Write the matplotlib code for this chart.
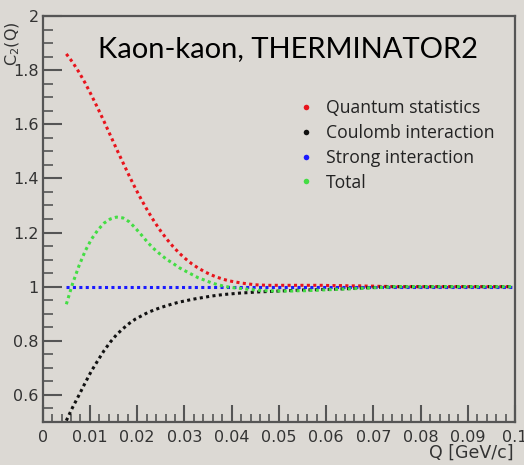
import matplotlib
matplotlib.use("Agg")
import matplotlib.pyplot as plt
from matplotlib.ticker import MultipleLocator, FuncFormatter
from matplotlib.lines import Line2D

# Q grid (GeV/c), same for every curve
q = [0.0050, 0.0063, 0.0077, 0.0090, 0.0103, 0.0117, 0.0130, 0.0143, 0.0156, 0.0170,
     0.0183, 0.0196, 0.0210, 0.0223, 0.0236, 0.0250, 0.0263, 0.0276, 0.0289, 0.0303,
     0.0316, 0.0329, 0.0343, 0.0356, 0.0369, 0.0383, 0.0396, 0.0409, 0.0422, 0.0436,
     0.0449, 0.0462, 0.0476, 0.0489, 0.0502, 0.0516, 0.0529, 0.0542, 0.0555, 0.0569,
     0.0582, 0.0595, 0.0609, 0.0622, 0.0635, 0.0649, 0.0662, 0.0675, 0.0688, 0.0702,
     0.0715, 0.0728, 0.0742, 0.0755, 0.0768, 0.0782, 0.0795, 0.0808, 0.0821, 0.0835,
     0.0848, 0.0861, 0.0875, 0.0888, 0.0901, 0.0915, 0.0928, 0.0941, 0.0954, 0.0968,
     0.0981, 0.0994]

quantum = [1.860, 1.830, 1.792, 1.752, 1.708, 1.658, 1.610, 1.560, 1.510, 1.458,
           1.410, 1.364, 1.318, 1.278, 1.241, 1.205, 1.175, 1.148, 1.124, 1.102,
           1.084, 1.069, 1.055, 1.044, 1.035, 1.027, 1.021, 1.017, 1.013, 1.010,
           1.007, 1.006, 1.005, 1.005, 1.005, 1.005, 1.005, 1.005, 1.005, 1.005,
           1.005, 1.005, 1.004, 1.004, 1.004, 1.003, 1.003, 1.003, 1.002, 1.002,
           1.001, 1.001] + [1.000] * 20

coulomb = [0.505, 0.553, 0.600, 0.645, 0.688, 0.728, 0.764, 0.795, 0.822, 0.845,
           0.864, 0.880, 0.893, 0.905, 0.914, 0.923, 0.930, 0.937, 0.943, 0.948,
           0.953, 0.957, 0.961, 0.965, 0.968, 0.971, 0.973, 0.975, 0.977, 0.978,
           0.980, 0.981, 0.982, 0.983, 0.984, 0.985, 0.986, 0.987, 0.988, 0.988,
           0.989, 0.990, 0.990, 0.991, 0.992, 0.993, 0.994, 0.995, 0.996, 0.997,
           0.998, 0.999] + [1.000] * 20

strong = [1.000] * 72

total = [0.935, 1.010, 1.078, 1.132, 1.175, 1.210, 1.235, 1.250, 1.257, 1.254,
         1.240, 1.217, 1.189, 1.162, 1.139, 1.118, 1.100, 1.086, 1.070, 1.057,
         1.045, 1.033, 1.024, 1.015, 1.008, 1.002, 0.998, 0.995, 0.993, 0.990,
         0.988, 0.986, 0.985, 0.984, 0.984, 0.984, 0.984, 0.985, 0.985, 0.986,
         0.987, 0.988, 0.989, 0.990, 0.991, 0.992, 0.993, 0.994, 0.995, 0.996,
         0.997, 0.998] + [1.000] * 20

labels = ["Quantum statistics", "Coulomb interaction", "Strong interaction", "Total"]
colors = ["#e8141c", "#111111", "#1a1aff", "#44dd44"]

bg = "#dcd9d4"
axcol = "#555555"

fig = plt.figure(figsize=(5.24, 4.65), dpi=100, facecolor=bg)
ax = fig.add_axes([0.0815, 0.0925, 0.9015, 0.873], facecolor=bg)

# dotted lines, ROOT style: dots evenly spaced along the curve
series = [quantum, coulomb, strong, total]
for ys, c in zip(series, colors):
    ax.plot(q, ys, linestyle=(0, (1.0, 1.1)), linewidth=2.2,
            dash_capstyle="butt", color=c)

ax.set_xlim(0, 0.1)
ax.set_ylim(0.5, 2.0)

for s in ax.spines.values():
    s.set_color(axcol)
    s.set_linewidth(1.6)

ax.xaxis.set_major_locator(MultipleLocator(0.01))
ax.xaxis.set_minor_locator(MultipleLocator(0.002))
ax.yaxis.set_major_locator(MultipleLocator(0.2))
ax.yaxis.set_minor_locator(MultipleLocator(0.05))

ax.xaxis.set_major_formatter(FuncFormatter(lambda v, p: "%g" % round(v, 3)))
ax.yaxis.set_major_formatter(FuncFormatter(lambda v, p: "" if v < 0.55 else "%g" % round(v, 2)))

ax.tick_params(axis="both", which="both", direction="in", color=axcol,
               labelcolor="#333333", labelsize=11.5, top=False, right=False)
ax.tick_params(axis="y", which="major", length=14, width=1.5, pad=3)
ax.tick_params(axis="y", which="minor", length=7, width=1.2)
ax.tick_params(axis="x", which="major", length=12, width=1.5, pad=6)
ax.tick_params(axis="x", which="minor", length=6, width=1.2)

fig.text(0.981, 0.026, "Q [GeV/c]", ha="right", va="center", fontsize=12.5, color="#333333")
fig.text(0.024, 0.905, r"C$_2$(Q)", ha="center", va="center", rotation=90,
         fontsize=11.5, color="#333333")

ax.text(0.0117, 1.878, "Kaon-kaon, THERMINATOR2", fontsize=21, family="Lato",
        color="black", ha="left", va="center")

handles = [Line2D([], [], linestyle="none", marker="o", markersize=4,
                  markeredgewidth=0, color=c) for c in colors]
leg = ax.legend(handles, labels, loc="upper left", bbox_to_anchor=(0.532, 0.812),
                frameon=False, handlelength=0.6, handletextpad=0.8,
                labelspacing=0.38, borderaxespad=0,
                prop={"family": "Open Sans", "size": 12.7})
for t in leg.get_texts():
    t.set_color("#222222")

fig.savefig("out.png", dpi=100, facecolor=bg)
